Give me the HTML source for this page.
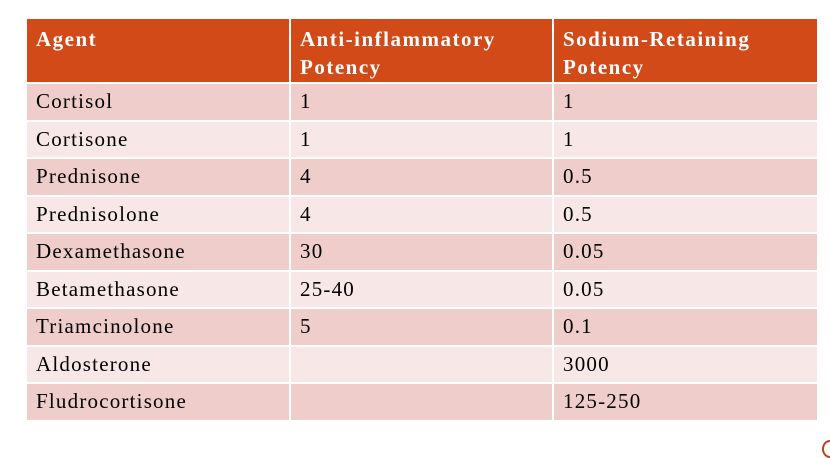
<!DOCTYPE html>
<html><head><meta charset="utf-8">
<style>
body{margin:0;width:830px;height:453px;background:#fff;overflow:hidden;position:relative;font-family:"Liberation Serif",serif;}
table{position:absolute;left:25px;top:17px;border-collapse:separate;border-spacing:2px 2px;table-layout:fixed;width:792px;}
td,th{padding:0 0 0 9px;font-size:21px;letter-spacing:1.2px;color:#000;text-align:left;vertical-align:middle;box-sizing:border-box;overflow:hidden;white-space:nowrap;}
th{background:#D24A18;color:#fff;font-weight:bold;height:63px;vertical-align:top;padding-top:6px;line-height:28px;letter-spacing:1.5px;}
td{height:35.5px;}
tr.o td{background:#EFCDCA;}
tr.e td{background:#F7E7E6;}
.mark{position:absolute;left:822px;top:440px;width:12px;height:14px;border-radius:50%;border:2px solid #C0401A;}
</style></head><body>
<table>
<colgroup><col style="width:262px"><col style="width:261px"><col style="width:263px"></colgroup>
<tr><th>Agent</th><th>Anti-inflammatory<br>Potency</th><th>Sodium-Retaining<br>Potency</th></tr>
<tr class="o"><td>Cortisol</td><td>1</td><td>1</td></tr>
<tr class="e"><td>Cortisone</td><td>1</td><td>1</td></tr>
<tr class="o"><td>Prednisone</td><td>4</td><td>0.5</td></tr>
<tr class="e"><td>Prednisolone</td><td>4</td><td>0.5</td></tr>
<tr class="o"><td>Dexamethasone</td><td>30</td><td>0.05</td></tr>
<tr class="e"><td>Betamethasone</td><td>25-40</td><td>0.05</td></tr>
<tr class="o"><td>Triamcinolone</td><td>5</td><td>0.1</td></tr>
<tr class="e"><td>Aldosterone</td><td></td><td>3000</td></tr>
<tr class="o"><td>Fludrocortisone</td><td></td><td>125-250</td></tr>
</table>
<div class="mark"></div>
</body></html>
